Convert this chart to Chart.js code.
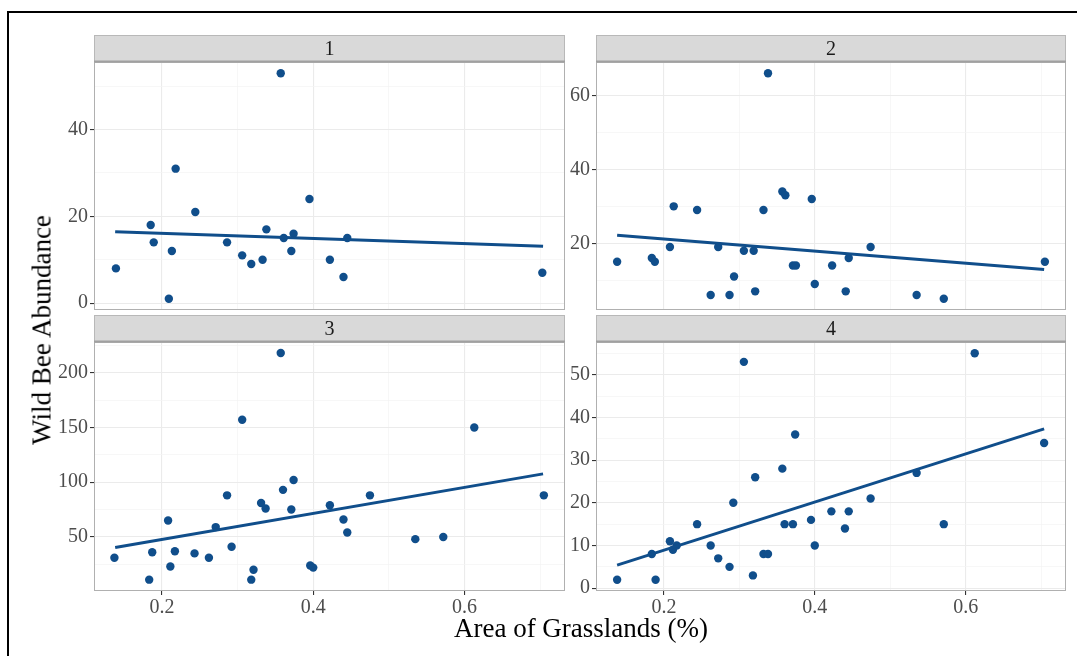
<!DOCTYPE html>
<html>
<head>
<meta charset="utf-8">
<script src="https://cdn.jsdelivr.net/npm/chart.js@4.4.1/dist/chart.umd.min.js"></script>
<style>
  html, body { margin: 0; padding: 0; background: #fff; }
  #wrap { position: relative; width: 1077px; height: 656px; overflow: hidden; background: #fff; }
  canvas { position: absolute; left: 0; top: 0; }
  #frame { position: absolute; left: 7px; top: 11px; width: 1200px; height: 800px; border-left: 2px solid #000; border-top: 2px solid #000; }
  .title { position: absolute; font-family: "Liberation Serif", "DejaVu Serif", serif; color: #000; white-space: nowrap; }
  #xtitle { left: 581px; top: 628px; font-size: 27px; transform: translate(-50%, -50%); }
  #ytitle { left: 42px; top: 330px; font-size: 27px; transform: translate(-50%, -50%) rotate(-90deg); }
</style>
</head>
<body>
<div id="wrap">
  <div id="frame"></div>
  <canvas id="c1" width="1077" height="656"></canvas>
  <canvas id="c2" width="1077" height="656"></canvas>
  <canvas id="c3" width="1077" height="656"></canvas>
  <canvas id="c4" width="1077" height="656"></canvas>
  <div id="xtitle" class="title">Area of Grasslands (%)</div>
  <div id="ytitle" class="title">Wild Bee Abundance</div>
</div>
<script>
// ---- data ----
const panelLabels = ["1", "2", "3", "4"];

const p1x = [0.139,0.185,0.189,0.209,0.213,0.218,0.244,0.286,0.306,0.318,0.333,0.338,0.357,0.361,0.371,0.374,0.395,0.422,0.440,0.445,0.703];
const p1y = [8,18,14,1,12,31,21,14,11,9,10,17,53,15,12,16,24,10,6,15,7];

const p2x = [0.138,0.184,0.188,0.208,0.213,0.244,0.262,0.272,0.287,0.293,0.306,0.319,0.321,0.332,0.338,0.357,0.361,0.371,0.375,0.396,0.400,0.423,0.441,0.445,0.474,0.535,0.571,0.705];
const p2y = [15,16,15,19,30,29,6,19,6,11,18,18,7,29,66,34,33,14,14,32,9,14,7,16,19,6,5,15];

const p3x = [0.137,0.183,0.187,0.208,0.211,0.217,0.243,0.262,0.271,0.286,0.292,0.306,0.318,0.321,0.331,0.337,0.357,0.360,0.371,0.374,0.396,0.400,0.422,0.440,0.445,0.475,0.535,0.572,0.613,0.705];
const p3y = [31,11,36,65,23,37,35,31,59,88,41,157,11,20,81,76,218,93,75,102,24,22,79,66,54,88,48,50,150,88];

const p4x = [0.138,0.184,0.189,0.208,0.212,0.217,0.244,0.262,0.272,0.287,0.292,0.306,0.318,0.321,0.332,0.338,0.357,0.360,0.371,0.374,0.395,0.400,0.422,0.440,0.445,0.474,0.535,0.571,0.612,0.704];
const p4y = [2,8,2,11,9,10,15,10,7,5,20,53,3,26,8,8,28,15,15,36,16,10,18,14,18,21,27,15,55,34];

// fitted regression line end points
const fitX = [0.138, 0.704];
const fit1 = [16.45, 13.1];
const fit2 = [22.2, 12.9];
const fit3 = [40.3, 107.6];
const fit4 = [5.4, 37.3];

// tick labels
const xTickLabels = ["0.2", "0.4", "0.6"];
const yTicks1 = [0, 20, 40];
const yTicks2 = [20, 40, 60];
const yTicks3 = [50, 100, 150, 200];
const yTicks4 = [0, 10, 20, 30, 40, 50];

// ---- styling / layout ----
const BLUE = "#104E8B";
const W = 1077, H = 656;
const SERIF = '"Liberation Serif", "DejaVu Serif", serif';
const YAXIS_W = 44, XAXIS_H = 30, STRIP_H = 27;

function pts(xs, ys) { return xs.map((x, i) => ({ x: x, y: ys[i] })); }

const stripPlugin = {
  id: "strip",
  afterDraw(chart, args, opts) {
    const ctx = chart.ctx, a = chart.chartArea;
    ctx.save();
    ctx.strokeStyle = "#b0b0b0";
    ctx.lineWidth = 1;
    ctx.strokeRect(a.left + 0.5, a.top + 0.5, a.right - a.left - 1, a.bottom - a.top - 1);
    const top = a.top - STRIP_H;
    ctx.fillStyle = "#d9d9d9";
    ctx.fillRect(a.left, top, a.right - a.left, STRIP_H);
    ctx.strokeStyle = "#b8b8b8";
    ctx.strokeRect(a.left + 0.5, top + 0.5, a.right - a.left - 1, STRIP_H - 1);
    ctx.strokeStyle = "#a0a0a0";
    ctx.lineWidth = 2;
    ctx.beginPath();
    ctx.moveTo(a.left, a.top - 0.5);
    ctx.lineTo(a.right, a.top - 0.5);
    ctx.stroke();
    ctx.fillStyle = "#1a1a1a";
    ctx.font = "20px " + SERIF;
    ctx.textAlign = "center";
    ctx.textBaseline = "middle";
    ctx.fillText(opts.label, (a.left + a.right) / 2, top + STRIP_H / 2 + 1);
    ctx.restore();
  }
};

function isMajorX(v) { return Math.abs(Math.round(v * 10) % 2) === 0; }

function makePanel(id, label, xs, ys, fy, box, yr, yStep, yMajors, showX) {
  const xLabelMap = {};
  [0.2, 0.4, 0.6].forEach((v, i) => { xLabelMap[v.toFixed(1)] = xTickLabels[i]; });
  const isMajorY = v => yMajors.some(m => Math.abs(m - v) < 1e-6);
  new Chart(document.getElementById(id), {
    data: {
      datasets: [
        {
          type: "line",
          data: pts(fitX, fy),
          borderColor: BLUE,
          borderWidth: 3,
          pointRadius: 0,
          fill: false,
          order: 0
        },
        {
          type: "scatter",
          data: pts(xs, ys),
          backgroundColor: BLUE,
          borderWidth: 0,
          pointRadius: 4.2,
          order: 1
        }
      ]
    },
    options: {
      responsive: false,
      animation: false,
      devicePixelRatio: 1,
      layout: {
        padding: {
          left: box.left - YAXIS_W,
          right: W - box.right,
          top: box.top,
          bottom: H - box.bottom - (showX ? XAXIS_H : 0)
        }
      },
      plugins: {
        legend: { display: false },
        tooltip: { enabled: false },
        strip: { label: label }
      },
      scales: {
        x: {
          type: "linear",
          min: 0.110, max: 0.733,
          border: { display: false },
          grid: {
            color: c => isMajorX(c.tick.value) ? "#ebebeb" : "#f4f4f4",
            lineWidth: c => isMajorX(c.tick.value) ? 1.1 : 0.7,
            drawTicks: showX,
            tickLength: 4,
            tickColor: c => isMajorX(c.tick.value) ? "#333333" : "rgba(0,0,0,0)"
          },
          ticks: {
            display: showX,
            stepSize: 0.1,
            includeBounds: false,
            autoSkip: false,
            maxRotation: 0,
            padding: 1,
            color: "#4d4d4d",
            font: { family: SERIF, size: 20 },
            callback: v => isMajorX(v) ? (xLabelMap[v.toFixed(1)] || "") : ""
          },
          afterFit: s => { s.height = showX ? XAXIS_H : 0; }
        },
        y: {
          type: "linear",
          min: yr[0], max: yr[1],
          border: { display: false },
          grid: {
            color: c => isMajorY(c.tick.value) ? "#ebebeb" : "#f4f4f4",
            lineWidth: c => isMajorY(c.tick.value) ? 1.1 : 0.7,
            drawTicks: true,
            tickLength: 4,
            tickColor: c => isMajorY(c.tick.value) ? "#333333" : "rgba(0,0,0,0)"
          },
          ticks: {
            stepSize: yStep,
            includeBounds: false,
            autoSkip: false,
            padding: 2,
            color: "#4d4d4d",
            font: { family: SERIF, size: 20 },
            callback: v => isMajorY(v) ? String(v) : ""
          },
          afterFit: s => { s.width = YAXIS_W; }
        }
      }
    },
    plugins: [stripPlugin]
  });
}

makePanel("c1", panelLabels[0], p1x, p1y, fit1, { left: 94, right: 565, top: 62, bottom: 310 }, [-1.6, 55.6], 10, yTicks1, false);
makePanel("c2", panelLabels[1], p2x, p2y, fit2, { left: 596, right: 1066, top: 62, bottom: 310 }, [1.95, 69.05], 10, yTicks2, false);
makePanel("c3", panelLabels[2], p3x, p3y, fit3, { left: 94, right: 565, top: 342, bottom: 591 }, [0.65, 228], 25, yTicks3, true);
makePanel("c4", panelLabels[3], p4x, p4y, fit4, { left: 596, right: 1066, top: 342, bottom: 591 }, [-0.65, 57.65], 5, yTicks4, true);
</script>
</body>
</html>
